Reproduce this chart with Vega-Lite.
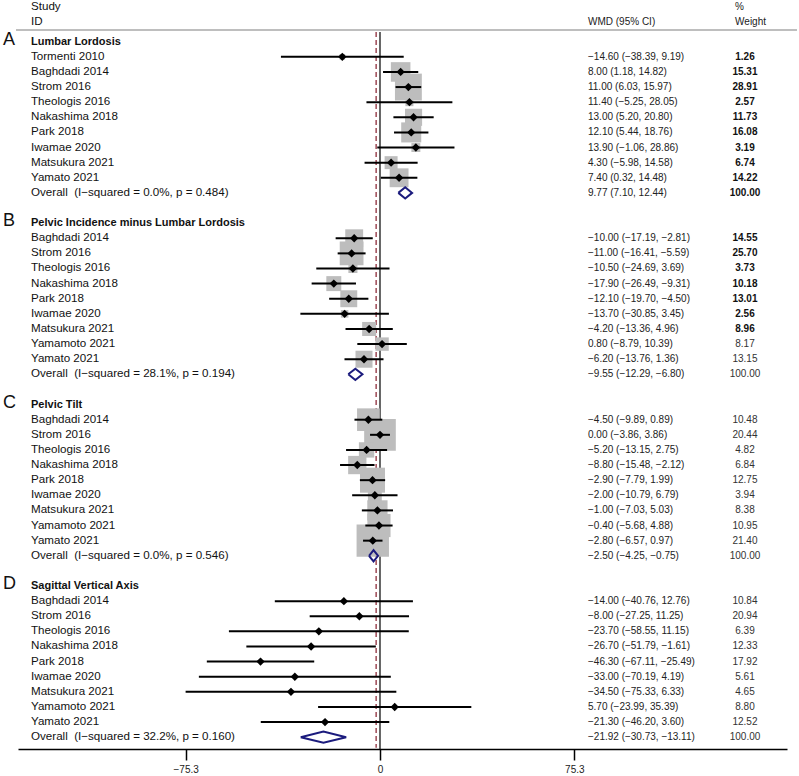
{
  "$schema": "https://vega.github.io/schema/vega-lite/v6.json",
  "width": 769,
  "height": 749,
  "autosize": {"type": "none"},
  "padding": {"left": 18, "top": 0, "right": 12, "bottom": 27},
  "background": "white",
  "config": {
    "view": {"stroke": null},
    "font": "Liberation Sans",
    "text": {"font": "Liberation Sans"},
    "axisX": {"title": null, "grid": false, "domainColor": "black", "domainWidth": 1.5, "tickColor": "black", "tickWidth": 1.5, "tickSize": 11, "labelFontSize": 10, "labelFont": "Liberation Sans", "labelColor": "#222", "labelPadding": 4, "labelFlush": false, "labelOverlap": false}
  },
  "datasets": {
    "forest": [
      {"panel": "A", "row": 0, "kind": "heading", "label": "Lumbar Lordosis"},
      {"panel": "A", "row": 1, "kind": "study", "label": "Tormenti 2010", "est": -14.60, "lo": -38.39, "hi": 9.19, "w": 1.26},
      {"panel": "A", "row": 2, "kind": "study", "label": "Baghdadi 2014", "est": 8.00, "lo": 1.18, "hi": 14.82, "w": 15.31},
      {"panel": "A", "row": 3, "kind": "study", "label": "Strom 2016", "est": 11.00, "lo": 6.03, "hi": 15.97, "w": 28.91},
      {"panel": "A", "row": 4, "kind": "study", "label": "Theologis 2016", "est": 11.40, "lo": -5.25, "hi": 28.05, "w": 2.57},
      {"panel": "A", "row": 5, "kind": "study", "label": "Nakashima 2018", "est": 13.00, "lo": 5.20, "hi": 20.80, "w": 11.73},
      {"panel": "A", "row": 6, "kind": "study", "label": "Park 2018", "est": 12.10, "lo": 5.44, "hi": 18.76, "w": 16.08},
      {"panel": "A", "row": 7, "kind": "study", "label": "Iwamae 2020", "est": 13.90, "lo": -1.06, "hi": 28.86, "w": 3.19},
      {"panel": "A", "row": 8, "kind": "study", "label": "Matsukura 2021", "est": 4.30, "lo": -5.98, "hi": 14.58, "w": 6.74},
      {"panel": "A", "row": 9, "kind": "study", "label": "Yamato 2021", "est": 7.40, "lo": 0.32, "hi": 14.48, "w": 14.22},
      {"panel": "A", "row": 10, "kind": "overall", "label": "Overall\u00a0\u00a0(I\u2212squared = 0.0%, p = 0.484)", "est": 9.77, "lo": 7.10, "hi": 12.44, "w": 100.00},
      {"panel": "B", "row": 12, "kind": "heading", "label": "Pelvic Incidence minus Lumbar Lordosis"},
      {"panel": "B", "row": 13, "kind": "study", "label": "Baghdadi 2014", "est": -10.00, "lo": -17.19, "hi": -2.81, "w": 14.55},
      {"panel": "B", "row": 14, "kind": "study", "label": "Strom 2016", "est": -11.00, "lo": -16.41, "hi": -5.59, "w": 25.70},
      {"panel": "B", "row": 15, "kind": "study", "label": "Theologis 2016", "est": -10.50, "lo": -24.69, "hi": 3.69, "w": 3.73},
      {"panel": "B", "row": 16, "kind": "study", "label": "Nakashima 2018", "est": -17.90, "lo": -26.49, "hi": -9.31, "w": 10.18},
      {"panel": "B", "row": 17, "kind": "study", "label": "Park 2018", "est": -12.10, "lo": -19.70, "hi": -4.50, "w": 13.01},
      {"panel": "B", "row": 18, "kind": "study", "label": "Iwamae 2020", "est": -13.70, "lo": -30.85, "hi": 3.45, "w": 2.56},
      {"panel": "B", "row": 19, "kind": "study", "label": "Matsukura 2021", "est": -4.20, "lo": -13.36, "hi": 4.96, "w": 8.96},
      {"panel": "B", "row": 20, "kind": "study", "label": "Yamamoto 2021", "est": 0.80, "lo": -8.79, "hi": 10.39, "w": 8.17},
      {"panel": "B", "row": 21, "kind": "study", "label": "Yamato 2021", "est": -6.20, "lo": -13.76, "hi": 1.36, "w": 13.15},
      {"panel": "B", "row": 22, "kind": "overall", "label": "Overall\u00a0\u00a0(I\u2212squared = 28.1%, p = 0.194)", "est": -9.55, "lo": -12.29, "hi": -6.80, "w": 100.00},
      {"panel": "C", "row": 24, "kind": "heading", "label": "Pelvic Tilt"},
      {"panel": "C", "row": 25, "kind": "study", "label": "Baghdadi 2014", "est": -4.50, "lo": -9.89, "hi": 0.89, "w": 10.48},
      {"panel": "C", "row": 26, "kind": "study", "label": "Strom 2016", "est": 0.00, "lo": -3.86, "hi": 3.86, "w": 20.44},
      {"panel": "C", "row": 27, "kind": "study", "label": "Theologis 2016", "est": -5.20, "lo": -13.15, "hi": 2.75, "w": 4.82},
      {"panel": "C", "row": 28, "kind": "study", "label": "Nakashima 2018", "est": -8.80, "lo": -15.48, "hi": -2.12, "w": 6.84},
      {"panel": "C", "row": 29, "kind": "study", "label": "Park 2018", "est": -2.90, "lo": -7.79, "hi": 1.99, "w": 12.75},
      {"panel": "C", "row": 30, "kind": "study", "label": "Iwamae 2020", "est": -2.00, "lo": -10.79, "hi": 6.79, "w": 3.94},
      {"panel": "C", "row": 31, "kind": "study", "label": "Matsukura 2021", "est": -1.00, "lo": -7.03, "hi": 5.03, "w": 8.38},
      {"panel": "C", "row": 32, "kind": "study", "label": "Yamamoto 2021", "est": -0.40, "lo": -5.68, "hi": 4.88, "w": 10.95},
      {"panel": "C", "row": 33, "kind": "study", "label": "Yamato 2021", "est": -2.80, "lo": -6.57, "hi": 0.97, "w": 21.40},
      {"panel": "C", "row": 34, "kind": "overall", "label": "Overall\u00a0\u00a0(I\u2212squared = 0.0%, p = 0.546)", "est": -2.50, "lo": -4.25, "hi": -0.75, "w": 100.00},
      {"panel": "D", "row": 36, "kind": "heading", "label": "Sagittal Vertical Axis"},
      {"panel": "D", "row": 37, "kind": "study", "label": "Baghdadi 2014", "est": -14.00, "lo": -40.76, "hi": 12.76, "w": 10.84},
      {"panel": "D", "row": 38, "kind": "study", "label": "Strom 2016", "est": -8.00, "lo": -27.25, "hi": 11.25, "w": 20.94},
      {"panel": "D", "row": 39, "kind": "study", "label": "Theologis 2016", "est": -23.70, "lo": -58.55, "hi": 11.15, "w": 6.39},
      {"panel": "D", "row": 40, "kind": "study", "label": "Nakashima 2018", "est": -26.70, "lo": -51.79, "hi": -1.61, "w": 12.33},
      {"panel": "D", "row": 41, "kind": "study", "label": "Park 2018", "est": -46.30, "lo": -67.11, "hi": -25.49, "w": 17.92},
      {"panel": "D", "row": 42, "kind": "study", "label": "Iwamae 2020", "est": -33.00, "lo": -70.19, "hi": 4.19, "w": 5.61},
      {"panel": "D", "row": 43, "kind": "study", "label": "Matsukura 2021", "est": -34.50, "lo": -75.33, "hi": 6.33, "w": 4.65},
      {"panel": "D", "row": 44, "kind": "study", "label": "Yamamoto 2021", "est": 5.70, "lo": -23.99, "hi": 35.39, "w": 8.80},
      {"panel": "D", "row": 45, "kind": "study", "label": "Yamato 2021", "est": -21.30, "lo": -46.20, "hi": 3.60, "w": 12.52},
      {"panel": "D", "row": 46, "kind": "overall", "label": "Overall\u00a0\u00a0(I\u2212squared = 32.2%, p = 0.160)", "est": -21.92, "lo": -30.73, "hi": -13.11, "w": 100.00}
    ]
  },
  "data": {"name": "forest"},
  "resolve": {"scale": {"size": "independent"}},
  "layer": [
    {
      "data": {"values": [{}]},
      "mark": {"type": "rule", "color": "#a8a8a8", "strokeWidth": 1.5},
      "encoding": {
        "x": {"datum": -141.05, "type": "quantitative", "scale": {"domain": [-140.28, 157.72], "nice": false, "zero": false}, "axis": {"values": [-75.3, 0, 75.3], "labelExpr": "datum.value == 0 ? '0' : format(datum.value, '.1f')"}},
        "x2": {"datum": 161.59},
        "y": {"datum": -0.774, "type": "quantitative", "scale": {"domain": [-2.758, 46.78], "reverse": true, "nice": false, "zero": false}, "axis": null}
      }
    },
    {
      "data": {"values": [{}]},
      "mark": {"type": "rule", "color": "black", "strokeWidth": 1.2},
      "encoding": {
        "x": {"datum": 0, "type": "quantitative", "scale": {"domain": [-140.28, 157.72], "nice": false, "zero": false}, "axis": {"values": [-75.3, 0, 75.3], "labelExpr": "datum.value == 0 ? '0' : format(datum.value, '.1f')"}},
        "y": {"datum": -0.642, "type": "quantitative", "scale": {"domain": [-2.758, 46.78], "reverse": true, "nice": false, "zero": false}, "axis": null},
        "y2": {"datum": 46.78}
      }
    },
    {
      "data": {"values": [{}]},
      "mark": {"type": "rule", "color": "#8e2c3a", "strokeWidth": 1.3, "strokeDash": [5, 3]},
      "encoding": {
        "x": {"datum": -1.5, "type": "quantitative", "scale": {"domain": [-140.28, 157.72], "nice": false, "zero": false}, "axis": {"values": [-75.3, 0, 75.3], "labelExpr": "datum.value == 0 ? '0' : format(datum.value, '.1f')"}},
        "y": {"datum": -0.642, "type": "quantitative", "scale": {"domain": [-2.758, 46.78], "reverse": true, "nice": false, "zero": false}, "axis": null},
        "y2": {"datum": 46.7}
      }
    },
    {
      "transform": [{"filter": "datum.kind == 'study' && datum.panel == 'A'"}],
      "mark": {"type": "point", "shape": "square", "filled": true, "color": "#bdbdbd", "opacity": 1, "strokeWidth": 0},
      "encoding": {
        "x": {"field": "est", "type": "quantitative", "scale": {"domain": [-140.28, 157.72], "nice": false, "zero": false}, "axis": {"values": [-75.3, 0, 75.3], "labelExpr": "datum.value == 0 ? '0' : format(datum.value, '.1f')"}},
        "y": {"field": "row", "type": "quantitative", "scale": {"domain": [-2.758, 46.78], "reverse": true, "nice": false, "zero": false}, "axis": null},
        "size": {"field": "w", "type": "quantitative", "scale": {"type": "linear", "domain": [0, 100], "range": [0, 2500]}, "legend": null}
      }
    },
    {
      "transform": [{"filter": "datum.kind == 'study' && datum.panel == 'B'"}],
      "mark": {"type": "point", "shape": "square", "filled": true, "color": "#bdbdbd", "opacity": 1, "strokeWidth": 0},
      "encoding": {
        "x": {"field": "est", "type": "quantitative", "scale": {"domain": [-140.28, 157.72], "nice": false, "zero": false}, "axis": {"values": [-75.3, 0, 75.3], "labelExpr": "datum.value == 0 ? '0' : format(datum.value, '.1f')"}},
        "y": {"field": "row", "type": "quantitative", "scale": {"domain": [-2.758, 46.78], "reverse": true, "nice": false, "zero": false}, "axis": null},
        "size": {"field": "w", "type": "quantitative", "scale": {"type": "linear", "domain": [0, 100], "range": [0, 2200]}, "legend": null}
      }
    },
    {
      "transform": [{"filter": "datum.kind == 'study' && datum.panel == 'C'"}],
      "mark": {"type": "point", "shape": "square", "filled": true, "color": "#bdbdbd", "opacity": 1, "strokeWidth": 0},
      "encoding": {
        "x": {"field": "est", "type": "quantitative", "scale": {"domain": [-140.28, 157.72], "nice": false, "zero": false}, "axis": {"values": [-75.3, 0, 75.3], "labelExpr": "datum.value == 0 ? '0' : format(datum.value, '.1f')"}},
        "y": {"field": "row", "type": "quantitative", "scale": {"domain": [-2.758, 46.78], "reverse": true, "nice": false, "zero": false}, "axis": null},
        "size": {"field": "w", "type": "quantitative", "scale": {"type": "linear", "domain": [0, 100], "range": [0, 4900]}, "legend": null}
      }
    },
    {
      "transform": [{"filter": "datum.kind == 'study'"}],
      "mark": {"type": "rule", "color": "black", "strokeWidth": 2},
      "encoding": {
        "x": {"field": "lo", "type": "quantitative", "scale": {"domain": [-140.28, 157.72], "nice": false, "zero": false}, "axis": {"values": [-75.3, 0, 75.3], "labelExpr": "datum.value == 0 ? '0' : format(datum.value, '.1f')"}},
        "x2": {"field": "hi"},
        "y": {"field": "row", "type": "quantitative", "scale": {"domain": [-2.758, 46.78], "reverse": true, "nice": false, "zero": false}, "axis": null}
      }
    },
    {
      "transform": [{"filter": "datum.kind == 'study'"}],
      "mark": {"type": "point", "shape": "diamond", "filled": true, "color": "black", "opacity": 1, "size": 70, "strokeWidth": 0},
      "encoding": {
        "x": {"field": "est", "type": "quantitative", "scale": {"domain": [-140.28, 157.72], "nice": false, "zero": false}, "axis": {"values": [-75.3, 0, 75.3], "labelExpr": "datum.value == 0 ? '0' : format(datum.value, '.1f')"}},
        "y": {"field": "row", "type": "quantitative", "scale": {"domain": [-2.758, 46.78], "reverse": true, "nice": false, "zero": false}, "axis": null}
      }
    },
    {
      "transform": [
        {"filter": "datum.kind == 'overall'"},
        {"calculate": "datum.est", "as": "est2"},
        {"calculate": "datum.lo", "as": "lo2"},
        {"fold": ["lo", "est", "hi", "est2", "lo2"], "as": ["vk", "vx"]},
        {"calculate": "datum.row + (datum.vk == 'est' ? -0.37 : (datum.vk == 'est2' ? 0.37 : 0))", "as": "vy"},
        {"calculate": "indexof(['lo','est','hi','est2','lo2'], datum.vk)", "as": "vo"}
      ],
      "mark": {"type": "line", "color": "#1b1b7d", "strokeWidth": 2, "strokeJoin": "miter"},
      "encoding": {
        "x": {"field": "vx", "type": "quantitative", "scale": {"domain": [-140.28, 157.72], "nice": false, "zero": false}, "axis": {"values": [-75.3, 0, 75.3], "labelExpr": "datum.value == 0 ? '0' : format(datum.value, '.1f')"}},
        "y": {"field": "vy", "type": "quantitative", "scale": {"domain": [-2.758, 46.78], "reverse": true, "nice": false, "zero": false}, "axis": null},
        "detail": {"field": "panel"},
        "order": {"field": "vo"}
      }
    },
    {
      "transform": [{"filter": "datum.kind != 'heading'"}],
      "mark": {"type": "text", "align": "left", "baseline": "middle", "fontSize": 11.6, "color": "#111"},
      "encoding": {
        "x": {"datum": -135.24, "type": "quantitative", "scale": {"domain": [-140.28, 157.72], "nice": false, "zero": false}, "axis": {"values": [-75.3, 0, 75.3], "labelExpr": "datum.value == 0 ? '0' : format(datum.value, '.1f')"}},
        "y": {"field": "row", "type": "quantitative", "scale": {"domain": [-2.758, 46.78], "reverse": true, "nice": false, "zero": false}, "axis": null},
        "text": {"field": "label"}
      }
    },
    {
      "transform": [{"filter": "datum.kind == 'heading'"}],
      "mark": {"type": "text", "align": "left", "baseline": "middle", "fontSize": 11, "fontWeight": "bold", "color": "#111"},
      "encoding": {
        "x": {"datum": -135.24, "type": "quantitative", "scale": {"domain": [-140.28, 157.72], "nice": false, "zero": false}, "axis": {"values": [-75.3, 0, 75.3], "labelExpr": "datum.value == 0 ? '0' : format(datum.value, '.1f')"}},
        "y": {"field": "row", "type": "quantitative", "scale": {"domain": [-2.758, 46.78], "reverse": true, "nice": false, "zero": false}, "axis": null},
        "text": {"field": "label"}
      }
    },
    {
      "transform": [{"filter": "datum.kind == 'heading'"}],
      "mark": {"type": "text", "align": "left", "baseline": "middle", "fontSize": 18, "dy": -2, "color": "#111"},
      "encoding": {
        "x": {"datum": -146.1, "type": "quantitative", "scale": {"domain": [-140.28, 157.72], "nice": false, "zero": false}, "axis": {"values": [-75.3, 0, 75.3], "labelExpr": "datum.value == 0 ? '0' : format(datum.value, '.1f')"}},
        "y": {"field": "row", "type": "quantitative", "scale": {"domain": [-2.758, 46.78], "reverse": true, "nice": false, "zero": false}, "axis": null},
        "text": {"field": "panel"}
      }
    },
    {
      "transform": [
        {"filter": "datum.kind != 'heading'"},
        {"calculate": "format(datum.est, '.2f') + ' (' + format(datum.lo, '.2f') + ', ' + format(datum.hi, '.2f') + ')'", "as": "ci"}
      ],
      "mark": {"type": "text", "align": "left", "baseline": "middle", "fontSize": 10, "color": "#222"},
      "encoding": {
        "x": {"datum": 80.6, "type": "quantitative", "scale": {"domain": [-140.28, 157.72], "nice": false, "zero": false}, "axis": {"values": [-75.3, 0, 75.3], "labelExpr": "datum.value == 0 ? '0' : format(datum.value, '.1f')"}},
        "y": {"field": "row", "type": "quantitative", "scale": {"domain": [-2.758, 46.78], "reverse": true, "nice": false, "zero": false}, "axis": null},
        "text": {"field": "ci"}
      }
    },
    {
      "transform": [
        {"filter": "datum.kind != 'heading' && (datum.panel == 'A' || (datum.panel == 'B' && datum.kind == 'study' && datum.row < 20))"},
        {"calculate": "format(datum.w, '.2f')", "as": "wt"}
      ],
      "mark": {"type": "text", "align": "center", "baseline": "middle", "fontSize": 10, "fontWeight": "bold", "color": "#111"},
      "encoding": {
        "x": {"datum": 141.44, "type": "quantitative", "scale": {"domain": [-140.28, 157.72], "nice": false, "zero": false}, "axis": {"values": [-75.3, 0, 75.3], "labelExpr": "datum.value == 0 ? '0' : format(datum.value, '.1f')"}},
        "y": {"field": "row", "type": "quantitative", "scale": {"domain": [-2.758, 46.78], "reverse": true, "nice": false, "zero": false}, "axis": null},
        "text": {"field": "wt"}
      }
    },
    {
      "transform": [
        {"filter": "datum.kind != 'heading' && !(datum.panel == 'A' || (datum.panel == 'B' && datum.kind == 'study' && datum.row < 20))"},
        {"calculate": "format(datum.w, '.2f')", "as": "wt"}
      ],
      "mark": {"type": "text", "align": "center", "baseline": "middle", "fontSize": 10, "color": "#333"},
      "encoding": {
        "x": {"datum": 141.44, "type": "quantitative", "scale": {"domain": [-140.28, 157.72], "nice": false, "zero": false}, "axis": {"values": [-75.3, 0, 75.3], "labelExpr": "datum.value == 0 ? '0' : format(datum.value, '.1f')"}},
        "y": {"field": "row", "type": "quantitative", "scale": {"domain": [-2.758, 46.78], "reverse": true, "nice": false, "zero": false}, "axis": null},
        "text": {"field": "wt"}
      }
    },
    {
      "data": {"values": [{}]},
      "mark": {"type": "text", "align": "left", "baseline": "middle", "fontSize": 11.6, "color": "#111", "dy": 1},
      "encoding": {
        "x": {"datum": -135.24, "type": "quantitative", "scale": {"domain": [-140.28, 157.72], "nice": false, "zero": false}, "axis": {"values": [-75.3, 0, 75.3], "labelExpr": "datum.value == 0 ? '0' : format(datum.value, '.1f')"}},
        "y": {"datum": -2.374, "type": "quantitative", "scale": {"domain": [-2.758, 46.78], "reverse": true, "nice": false, "zero": false}, "axis": null},
        "text": {"value": "Study"}
      }
    },
    {
      "data": {"values": [{}]},
      "mark": {"type": "text", "align": "left", "baseline": "middle", "fontSize": 11.6, "color": "#111"},
      "encoding": {
        "x": {"datum": -135.24, "type": "quantitative", "scale": {"domain": [-140.28, 157.72], "nice": false, "zero": false}, "axis": {"values": [-75.3, 0, 75.3], "labelExpr": "datum.value == 0 ? '0' : format(datum.value, '.1f')"}},
        "y": {"datum": -1.323, "type": "quantitative", "scale": {"domain": [-2.758, 46.78], "reverse": true, "nice": false, "zero": false}, "axis": null},
        "text": {"value": "ID"}
      }
    },
    {
      "data": {"values": [{}]},
      "mark": {"type": "text", "align": "left", "baseline": "middle", "fontSize": 10, "color": "#222"},
      "encoding": {
        "x": {"datum": 80.6, "type": "quantitative", "scale": {"domain": [-140.28, 157.72], "nice": false, "zero": false}, "axis": {"values": [-75.3, 0, 75.3], "labelExpr": "datum.value == 0 ? '0' : format(datum.value, '.1f')"}},
        "y": {"datum": -1.323, "type": "quantitative", "scale": {"domain": [-2.758, 46.78], "reverse": true, "nice": false, "zero": false}, "axis": null},
        "text": {"value": "WMD (95% CI)"}
      }
    },
    {
      "data": {"values": [{}]},
      "mark": {"type": "text", "align": "left", "baseline": "middle", "fontSize": 10, "color": "#222", "dy": 1},
      "encoding": {
        "x": {"datum": 137.6, "type": "quantitative", "scale": {"domain": [-140.28, 157.72], "nice": false, "zero": false}, "axis": {"values": [-75.3, 0, 75.3], "labelExpr": "datum.value == 0 ? '0' : format(datum.value, '.1f')"}},
        "y": {"datum": -2.374, "type": "quantitative", "scale": {"domain": [-2.758, 46.78], "reverse": true, "nice": false, "zero": false}, "axis": null},
        "text": {"value": "%"}
      }
    },
    {
      "data": {"values": [{}]},
      "mark": {"type": "text", "align": "left", "baseline": "middle", "fontSize": 10, "color": "#222"},
      "encoding": {
        "x": {"datum": 137.6, "type": "quantitative", "scale": {"domain": [-140.28, 157.72], "nice": false, "zero": false}, "axis": {"values": [-75.3, 0, 75.3], "labelExpr": "datum.value == 0 ? '0' : format(datum.value, '.1f')"}},
        "y": {"datum": -1.323, "type": "quantitative", "scale": {"domain": [-2.758, 46.78], "reverse": true, "nice": false, "zero": false}, "axis": null},
        "text": {"value": "Weight"}
      }
    }
  ]
}
